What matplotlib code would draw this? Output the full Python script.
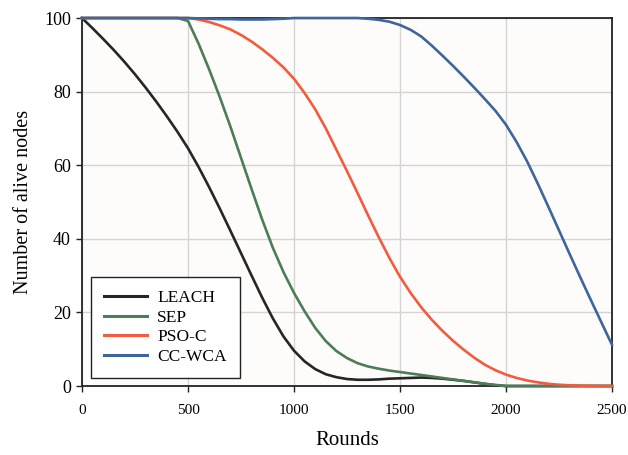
import matplotlib
matplotlib.use("Agg")
import matplotlib.pyplot as plt

rounds = list(range(0, 2501, 50))

leach = [100, 97.2, 94.3, 91.3, 88.1, 84.7, 81.1, 77.3, 73.3, 69.1,
         64.6, 59.5, 54, 48.2, 42.2, 36.1, 30, 24, 18.4, 13.5,
         9.6, 6.7, 4.6, 3.2, 2.4, 1.9, 1.7, 1.7, 1.8, 2.0,
         2.1, 2.2, 2.3, 2.2, 2.0, 1.7, 1.4, 1.0, 0.6, 0.2,
         0, 0, 0, 0, 0, 0, 0, 0, 0, 0, 0]

sep = [100, 100, 100, 100, 100, 100, 100, 100, 100, 100,
       99.2, 93, 86, 78.5, 70.5, 62, 53.5, 45.2, 37.6, 31,
       25.3, 20.3, 15.8, 12.2, 9.5, 7.6, 6.2, 5.3, 4.7, 4.2,
       3.8, 3.4, 3.0, 2.6, 2.2, 1.8, 1.4, 1.0, 0.6, 0.3,
       0, 0, 0, 0, 0, 0, 0, 0, 0, 0, 0]

pso_c = [100, 100, 100, 100, 100, 100, 100, 100, 100, 100,
         100, 99.6, 98.9, 98, 96.9, 95.4, 93.6, 91.5, 89.2, 86.6,
         83.5, 79.6, 75.2, 70, 64.2, 58.4, 52.4, 46.3, 40.4, 34.8,
         29.7, 25.3, 21.4, 18, 15, 12.3, 9.9, 7.7, 5.8, 4.3,
         3.1, 2.2, 1.5, 1.0, 0.6, 0.35, 0.2, 0.1, 0.05, 0, 0]

cc_wca = [100, 100, 100, 100, 100, 100, 100, 100, 100, 100,
          100, 99.9, 99.8, 99.7, 99.7, 99.6, 99.6, 99.6, 99.7, 99.8,
          100, 100, 100, 100, 100, 100, 100, 99.8, 99.5, 99,
          98.1, 96.8, 95, 92.5, 89.8, 87, 84.1, 81.1, 78, 74.8,
          71, 66.3, 61, 55, 48.7, 42.3, 35.9, 29.6, 23.4, 17.3, 11.2]

series_names = ["LEACH", "SEP", "PSO-C", "CC-WCA"]
series_colors = ["#262626", "#4c7d57", "#f25c3e", "#3e659c"]
x_ticks = [0, 500, 1000, 1500, 2000, 2500]
y_ticks = [0, 20, 40, 60, 80, 100]

plt.rcParams['font.family'] = ['Liberation Serif', 'DejaVu Serif']

fig = plt.figure(figsize=(6.28, 4.55), dpi=100)
ax = fig.add_axes([0.1306, 0.1516, 0.8439, 0.8088])
ax.set_facecolor("#fdfcfb")

for name, ys, c in zip(series_names, [leach, sep, pso_c, cc_wca], series_colors):
    ax.plot(rounds, ys, color=c, lw=1.9, label=name, zorder=3, clip_on=False,
            solid_joinstyle="round")

ax.set_xlim(0, 2500)
ax.set_ylim(0, 100)
ax.set_xticks(x_ticks)
ax.set_yticks(y_ticks)
ax.grid(True, color="#d4d4d4", lw=1.0)
ax.set_axisbelow(True)
for s in ax.spines.values():
    s.set_color("#222222")
    s.set_linewidth(1.3)
ax.tick_params(direction="out", length=4, width=1, color="#222222")
ax.tick_params(axis="x", labelsize=11, pad=9)
ax.tick_params(axis="y", labelsize=13, pad=4)

ax.set_xlabel("Rounds", fontsize=15, labelpad=10)
ax.set_ylabel("Number of alive nodes", fontsize=14.5, labelpad=8)

leg = ax.legend(loc="lower left", bbox_to_anchor=(0.017, 0.022), fontsize=12.5,
                frameon=True, fancybox=False, edgecolor="#222222",
                handlelength=2.5, handletextpad=0.55, borderpad=0.75,
                labelspacing=0.2, borderaxespad=0)
leg.get_frame().set_linewidth(1.0)
leg.get_frame().set_facecolor("white")
leg.get_frame().set_alpha(1)
for line in leg.get_lines():
    line.set_linewidth(2.2)

fig.savefig("out.png", dpi=100)
